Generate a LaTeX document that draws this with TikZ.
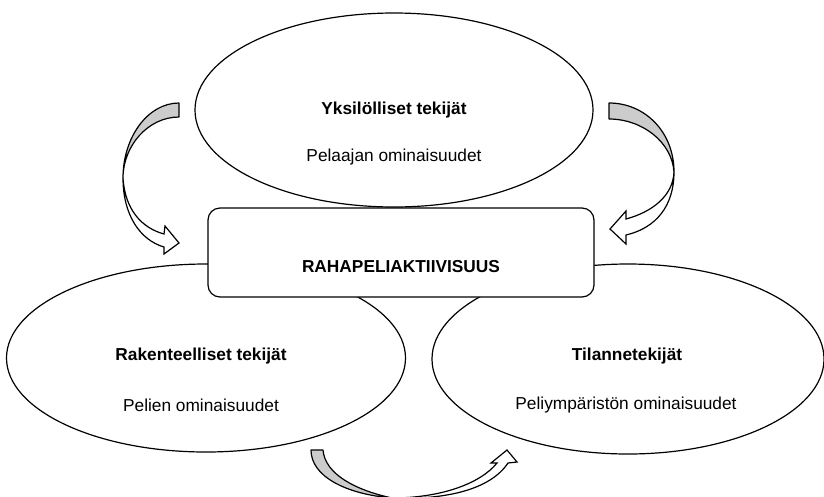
\documentclass[tikz,border=0pt]{standalone}
\usepackage{fontspec}
\setmainfont{Liberation Sans}
\usetikzlibrary{shapes.geometric}
\begin{document}
\begin{tikzpicture}[x=1pt,y=-1pt,
  line width=1.2pt,
  factor/.style={draw,ellipse,inner sep=0pt,fill=white},
  title/.style={font=\fontsize{17.3}{19}\selectfont\bfseries},
  sub/.style={font=\fontsize{17.3}{19}\selectfont},
  centerbox/.style={draw,rounded corners=12pt,fill=white,inner sep=0pt},
  backface/.style={draw,fill=black!20,line join=round},
  frontface/.style={draw,fill=white,line join=miter}]
\useasboundingbox (0,0) rectangle (824,496);

% three groups of factors
\node[factor,minimum width=398pt,minimum height=194pt] (indiv) at (394,110) {};
\node[factor,minimum width=399pt,minimum height=188pt] (struct) at (206,358) {};
\node[factor,minimum width=392pt,minimum height=190pt] (situ) at (628,359) {};

% central activity box
\node[centerbox,minimum width=386pt,minimum height=89pt] (act) at (401,252.5) {};
\node[title] (acttxt) at (401,267) {RAHAPELIAKTIIVISUUS};

% texts of the ellipses
\node[title] (indivt) at (394,110) {Yksilölliset tekijät};
\node[sub]   (indivs) at (394,157) {Pelaajan ominaisuudet};
\node[title] (structt) at (201,356) {Rakenteelliset tekijät};
\node[sub]   (structs) at (201,405) {Pelien ominaisuudet};
\node[title] (situt) at (627,356) {Tilannetekijät};
\node[sub]   (situs) at (626,405) {Peliympäristön ominaisuudet};

% curved arrow, upper left
\draw[backface] (179,103) .. controls (148,103) and (123,137) .. (123,178)
  .. controls (123,146) and (148,117) .. (179,117) -- cycle;
\draw[frontface] (123,178) .. controls (125,210) and (142,228) .. (164,234)
  -- (165,226) -- (179,243) -- (164,254) -- (164,247)
  .. controls (140,240) and (123,215) .. (123,178) -- cycle;

% curved arrow, upper right
\draw[backface] (609,103) .. controls (645,103) and (674,132) .. (674,172)
  .. controls (672,142) and (642,119) .. (609,119) -- cycle;
\draw[frontface] (674,172) .. controls (673,196) and (652,212) .. (626,219)
  -- (626,211) -- (610,229) -- (626,244) -- (626,235)
  .. controls (656,228) and (674,206) .. (674,172) -- cycle;

% curved arrow, bottom
\begin{scope}
\clip (0,0) rectangle (824,496);
\draw[backface] (311,450) .. controls (311,476) and (345,494) .. (392,498)
  .. controls (355,490) and (325,474) .. (323,450) -- cycle;
\draw[frontface] (392,498) .. controls (440,498) and (480,484) .. (497,463)
  -- (491,463) -- (507,450) -- (517,462) -- (508,463)
  .. controls (490,490) and (445,500) .. (392,498) -- cycle;
\end{scope}
\end{tikzpicture}
\end{document}
